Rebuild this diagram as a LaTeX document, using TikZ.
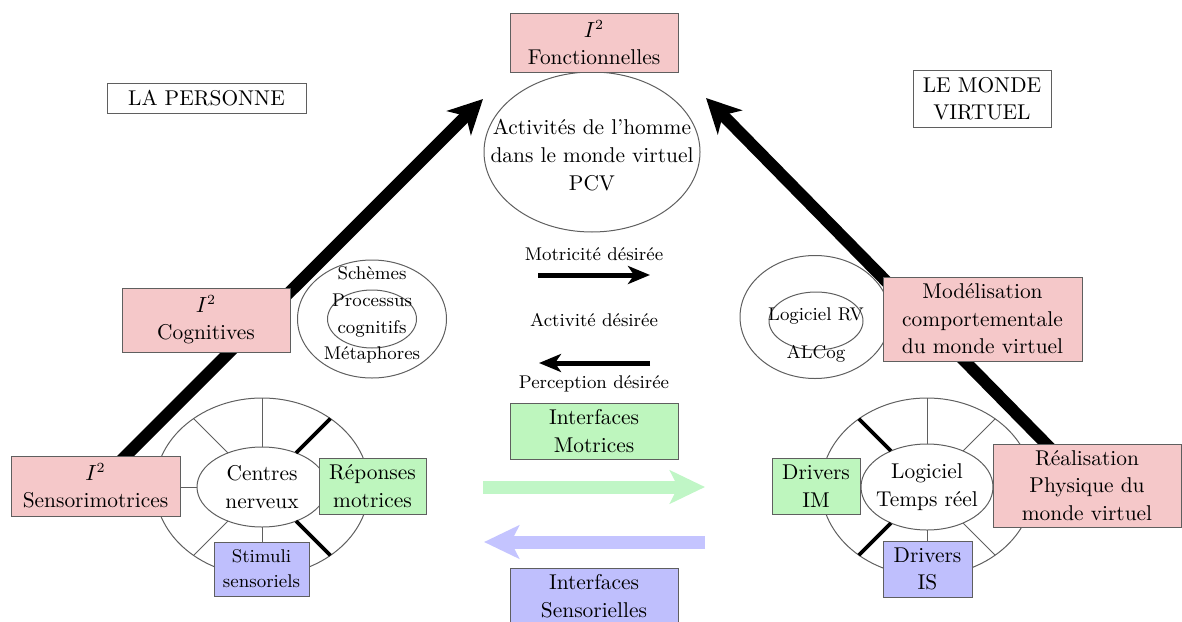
\documentclass[tikz,border=0pt]{standalone}
\usepackage{tikz}
\usetikzlibrary{shapes.geometric,arrows.meta,backgrounds}
\definecolor{roseI}{RGB}{245,200,201}
\definecolor{vertI}{RGB}{190,246,190}
\definecolor{bleuI}{RGB}{191,191,253}
\definecolor{vertF}{RGB}{192,246,198}
\definecolor{bleuF}{RGB}{196,196,255}
\definecolor{traitI}{RGB}{95,95,95}

\begin{document}
\begin{tikzpicture}[x=0.5pt,y=-0.5pt,
	grand/.style={font=\fontsize{10.7}{13.7}\selectfont,align=center},
	petit/.style={font=\fontsize{9.2}{12.5}\selectfont,align=center},
	boite/.style={draw=traitI,line width=0.5pt,inner sep=0pt,grand},
	rose/.style={boite,fill=roseI},
	vert/.style={boite,fill=vertI},
	bleu/.style={boite,fill=bleuI},
	ovale/.style={ellipse,draw=traitI,line width=0.5pt,inner sep=0pt,outer sep=0pt},
	rayon/.style={draw=traitI,line width=0.5pt},
	fleche/.style={line width=6pt,-{Stealth[length=17pt,width=17pt,inset=5pt]}}]

		\useasboundingbox (0,0) rectangle (1182,621);
		\clip (0,0) rectangle (1182,621);

		\node[ovale,minimum width=108pt,minimum height=80pt] (pcv) at (592,152) {};
		\node[grand,font=\fontsize{10.7}{13.8}\selectfont] (pcvtxt) at (592,155) {Activités de l’homme\\dans le monde virtuel\\PCV};

		\node[ovale,minimum width=74.5pt,minimum height=59pt] (schext) at (372,319) {};
		\node[ovale,minimum width=44.5pt,minimum height=29pt] (schint) at (372,319) {};
		\node[petit,font=\fontsize{9.2}{13.3}\selectfont] (schtxt) at (372,315) {Schèmes\\Processus\\cognitifs\\Métaphores};

		\node[ovale,minimum width=75pt,minimum height=61.5pt] (rvext) at (815,317) {};
		\node[ovale,minimum width=47pt,minimum height=29pt] (rvint) at (816,321) {};
		\node[petit] (rvtxt) at (816,316) {Logiciel RV};
		\node[petit] (alcog) at (816,354) {ALCog};

		\node[ovale,minimum width=107pt,minimum height=89pt] (cnext) at (262,487) {};
		\node[ovale,minimum width=65pt,minimum height=40pt] (cnint) at (262,487) {};
		\node[grand] (cntxt) at (262,487) {Centres\\nerveux};
		\foreach \a in {0,90,135,180,225,270} { \draw[rayon] (cnint.\a) -- (cnext.\a);}
		\foreach \a in {45,315} { \draw[rayon,draw=black,line width=1.8pt] (cnint.\a) -- (cnext.\a);}

		\node[ovale,minimum width=106pt,minimum height=89pt] (trext) at (927,487) {};
		\node[ovale,minimum width=66pt,minimum height=43pt] (trint) at (927,487) {};
		\node[grand] (trtxt) at (927,487) {Logiciel\\Temps réel};
		\foreach \a in {0,45,90,180,270,315} { \draw[rayon] (trint.\a) -- (trext.\a);}
		\foreach \a in {135,225} { \draw[rayon,draw=black,line width=1.8pt] (trint.\a) -- (trext.\a);}

		\node[boite,minimum width=99.5pt,minimum height=15pt] (pers) at (206.5,98) {LA PERSONNE};
		\node[boite,minimum width=69pt,minimum height=28.5pt] (monde) at (982,98.5) {LE MONDE\\VIRTUEL};
		\node[rose,minimum width=84pt,minimum height=29.5pt] (fonct) at (594,42.5) {$I^2$\\Fonctionnelles};
		\node[rose,minimum width=84pt,minimum height=32pt] (cogn) at (206,320) {$I^2$\\Cognitives};
		\node[rose,minimum width=84.5pt,minimum height=30pt] (sensori) at (95.5,486) {$I^2$\\Sensorimotrices};
		\node[vert,minimum width=53.5pt,minimum height=28pt] (repmot) at (372.5,486) {Réponses\\motrices};
		\node[bleu,petit,minimum width=47.5pt,minimum height=27pt] (stim) at (261.5,569) {Stimuli\\sensoriels};
		\node[vert,minimum width=44pt,minimum height=28pt] (drvim) at (816,486) {Drivers\\IM};
		\node[bleu,minimum width=44.5pt,minimum height=28pt] (drvis) at (927.5,569) {Drivers\\IS};
		\node[rose,minimum width=99.5pt,minimum height=42pt] (model) at (982.5,319) {Modélisation\\comportementale\\du monde virtuel};
		\node[rose,minimum width=94pt,minimum height=41.5pt] (real) at (1087,485.5) {Réalisation\\Physique du\\monde virtuel};
		\node[vert,minimum width=84pt,minimum height=28pt] (intm) at (594,431) {Interfaces\\Motrices};
		\node[bleu,minimum width=84pt,minimum height=28pt] (ints) at (594,596) {Interfaces\\Sensorielles};

		\node[petit] (motr) at (594,254) {Motricité désirée};
		\node[petit] (activ) at (594,320) {Activité désirée};
		\node[petit] (percep) at (594,384) {Perception désirée};

		\coordinate (m1) at (538,275); \coordinate (m2) at (650,275);
		\coordinate (p1) at (650,363); \coordinate (p2) at (539,363);
		\coordinate (g1) at (483,487); \coordinate (g2) at (705,487);
		\coordinate (b1) at (705,542); \coordinate (b2) at (484,542);
		\coordinate (tipL) at (483,99); \coordinate (tipR) at (706,98);

		\draw[line width=2.5pt,-{Stealth[length=11pt,width=9pt,inset=3pt]}] (m1) -- (m2);
		\draw[line width=2.5pt,-{Stealth[length=11pt,width=9pt,inset=3pt]}] (p1) -- (p2);
		\draw[vertF,line width=6.5pt,-{Stealth[length=17.5pt,width=16.5pt,inset=4pt]}] (g1) -- (g2);
		\draw[bleuF,line width=6.5pt,-{Stealth[length=17.5pt,width=16.5pt,inset=4pt]}] (b1) -- (b2);

		\begin{scope}[on background layer]
		\draw[fleche] (sensori.center) -- (tipL);
		\draw[fleche] (real.center) -- (tipR);
%		\draw[fleche] (cogn.center) -- (tipL);
		\end{scope}
	\end{tikzpicture}
\end{document}
